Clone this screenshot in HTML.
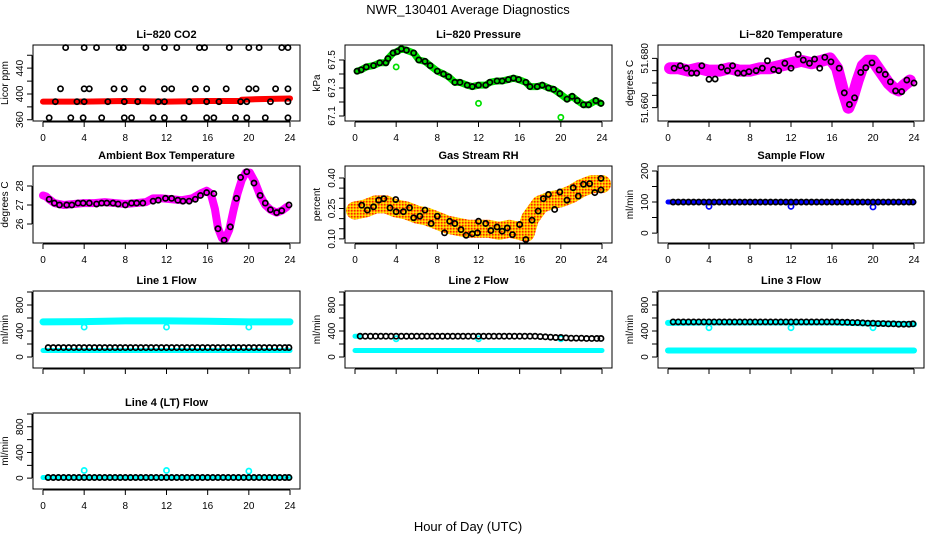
<!DOCTYPE html>
<html><head><meta charset="utf-8">
<style>
html,body{margin:0;padding:0;background:#fff;}
svg{display:block;font-family:"Liberation Sans",Arial,sans-serif;}
</style></head>
<body>
<svg id="chart" width="936" height="540" viewBox="0 0 936 540" xmlns="http://www.w3.org/2000/svg">
<defs>
<pattern id="rhpat" width="3" height="3" patternUnits="userSpaceOnUse">
<rect width="3" height="3" fill="#ffb000"/>
<rect width="1.5" height="1.5" fill="#ff2000"/>
<rect x="1.5" y="1.5" width="1.5" height="1.5" fill="#ffee00"/>
</pattern>
</defs>
<text x="468" y="14" text-anchor="middle" font-size="13">NWR_130401  Average Diagnostics</text>
<text x="468" y="531" text-anchor="middle" font-size="13">Hour of Day (UTC)</text>
</svg>
<script>
// ---------- data ----------
const co2TopH = [2.2,4,5.2,7.4,7.8,10,11.8,13,15.2,15.7,18.1,20,21,23.2,23.8];
const co2TopV = [472,472,472,472,472,472,472,472,472,472,472,472,472,472,472];
const co2MidH = [1.7,4,4.5,6.9,7.9,9.7,11.8,12.5,14.8,15.9,17.8,20,20.7,22.6,23.8];
const co2MidV = [408,408,408,408,408,408,408,408,408,408,408,408,408,408,408];
const co2LowH = [1.2,3.3,4,6.3,7.9,9.2,11.2,11.8,14.2,15.9,17.1,19.2,19.8,22.1,23.8];
const co2LowV = [388,388,388,388,388,388,388,388,388,388,388,388,388,388,388];
const co2BotH = [0.6,2.7,3.9,5.7,7.9,8.6,10.7,11.8,13.7,15.9,16.6,18.7,19.8,21.6,23.8];
const co2BotV = [363,363,363,363,363,363,363,363,363,363,363,363,363,363,363];
const co2BandH = [0,4,8,12,16,19.2,19.3,21,24];
const co2BandV = [388,388,389,388,389,389,391,392,393];

const presH = [0.2,0.6,1.1,1.8,2.4,3.0,3.2,3.7,4.1,4.5,5.0,5.7,6.2,6.8,7.3,8.0,8.6,9.1,9.7,10.2,10.9,11.4,12.0,12.7,13.1,13.8,14.3,14.9,15.4,15.9,16.6,17.0,17.7,18.2,18.8,19.3,19.9,20.6,21.1,21.6,22.2,22.7,23.4,23.9];
const presV = [67.42,67.43,67.45,67.46,67.48,67.48,67.51,67.55,67.56,67.58,67.57,67.55,67.50,67.49,67.46,67.42,67.40,67.38,67.34,67.34,67.32,67.31,67.32,67.32,67.34,67.35,67.35,67.36,67.37,67.36,67.34,67.31,67.31,67.32,67.30,67.29,67.26,67.22,67.24,67.21,67.18,67.18,67.21,67.19];
const presOutH = [4.0,12.0,20.0];
const presOutV = [67.45,67.19,67.09];

const tempH = [0.6,1.2,1.8,2.3,2.8,3.3,4.0,4.6,5.2,5.8,6.3,6.8,7.4,7.9,8.6,9.2,9.7,10.3,10.8,11.4,12.0,12.7,13.2,13.8,14.3,14.8,15.3,15.9,16.7,17.2,17.7,18.2,18.8,19.3,19.9,20.6,21.2,21.7,22.2,22.8,23.3,24.0];
const tempV = [51.676,51.677,51.676,51.674,51.674,51.677,51.6715,51.6716,51.6764,51.675,51.677,51.674,51.674,51.6746,51.675,51.676,51.679,51.6755,51.675,51.678,51.676,51.6816,51.6793,51.678,51.6797,51.676,51.6804,51.6786,51.676,51.666,51.6613,51.664,51.6743,51.6762,51.6782,51.6753,51.6735,51.6705,51.6668,51.6665,51.6712,51.670];
const tempBandH = [0.2,1,2,3,4,5,6,7,8,9,10,11,12,13,14,15,15.8,16.5,17.0,17.6,18.0,18.5,19.0,19.5,20,20.5,21,21.5,22,22.5,23,23.6];
const tempBandV = [51.676,51.676,51.675,51.676,51.675,51.675,51.676,51.675,51.675,51.676,51.676,51.677,51.678,51.679,51.678,51.679,51.680,51.676,51.668,51.660,51.664,51.671,51.677,51.679,51.679,51.676,51.673,51.670,51.668,51.667,51.669,51.671];

const ambH = [0.6,1.1,1.6,2.3,2.8,3.4,3.9,4.5,5.2,5.7,6.2,6.8,7.3,8.0,8.6,9.1,9.7,10.7,11.2,11.9,12.5,13.1,13.6,14.2,14.8,15.3,15.9,16.6,17.0,17.6,18.2,18.8,19.2,19.8,20.5,21.1,21.6,22.1,22.7,23.2,23.9];
const ambV = [27.3,27.1,27.0,27.0,27.0,27.1,27.1,27.1,27.05,27.1,27.1,27.1,27.05,27.0,27.1,27.1,27.1,27.2,27.25,27.35,27.35,27.25,27.2,27.2,27.3,27.5,27.65,27.6,25.75,25.15,25.85,27.35,28.45,28.75,28.15,27.5,27.1,26.75,26.6,26.7,27.0];
const ambBandH = [0,0.3,0.6,1.1,2,3,4,5,6,7,8,9,10,10.7,11.5,12.5,13.5,14.5,15.3,15.9,16.3,16.7,17.0,17.4,17.7,18.1,18.5,18.9,19.3,19.7,20.1,20.6,21.1,21.6,22.1,22.7,23.2,23.7];
const ambBandV = [27.5,27.45,27.3,27.1,27.0,27.05,27.1,27.1,27.15,27.1,27.05,27.1,27.15,27.35,27.35,27.3,27.25,27.35,27.6,27.75,27.6,26.8,25.8,25.25,25.2,25.7,26.7,27.6,28.3,28.7,28.7,28.2,27.5,27.0,26.75,26.6,26.7,26.9];

const rhH = [0.65,1.2,1.8,2.3,2.8,3.4,3.96,4.0,4.7,5.3,5.7,6.3,6.8,7.4,8.0,8.7,9.2,9.7,10.3,10.8,11.4,11.9,12.0,12.7,13.2,13.8,14.3,14.8,15.3,16.0,16.6,17.2,17.8,18.3,18.8,19.4,19.9,20.6,21.2,21.7,22.2,22.8,23.3,23.9,23.9];
const rhV = [0.266,0.242,0.258,0.291,0.298,0.253,0.294,0.234,0.234,0.253,0.204,0.212,0.242,0.176,0.212,0.13,0.187,0.176,0.146,0.118,0.125,0.13,0.187,0.176,0.141,0.159,0.138,0.154,0.121,0.171,0.097,0.192,0.237,0.298,0.319,0.245,0.331,0.291,0.352,0.311,0.369,0.372,0.328,0.341,0.398];
const rhBandH = [0,1,2,3,4,5,6,7,8,9,10,11,12,13,14,15,16,16.6,17,18,19,20,21,22,23,24];
const rhBandV = [0.24,0.25,0.27,0.27,0.25,0.24,0.22,0.21,0.19,0.17,0.16,0.15,0.15,0.15,0.14,0.15,0.14,0.13,0.2,0.27,0.29,0.3,0.32,0.35,0.37,0.37];

const flowH = [0.5,1,1.5,2,2.5,3,3.5,4,4.5,5,5.5,6,6.5,7,7.5,8,8.5,9,9.5,10,10.5,11,11.5,12,12.5,13,13.5,14,14.5,15,15.5,16,16.5,17,17.5,18,18.5,19,19.5,20,20.5,21,21.5,22,22.5,23,23.5,23.9];
const bandH = [0,4,8,12,16,20,24];
const dipH = [4,12,20];

const sampleBlack = [100,100,100,100,100,100,100,100,100,100,100,100,100,100,100,100,100,100,100,100,100,100,100,100,100,100,100,100,100,100,100,100,100,100,100,100,100,100,100,100,100,100,100,100,100,100,100,100];
const sampleBand = [100,100,100,100,100,100,100];
const sampleDip = [86,86,84];

const line1Black = [145,145,145,145,145,145,145,145,145,145,145,145,145,145,145,145,145,145,145,145,145,145,145,145,145,145,145,145,145,145,145,145,145,145,145,145,145,145,145,145,145,145,145,145,145,145,145,145];
const line1Upper = [540,545,555,555,550,540,540];
const line1Lower = [100,100,100,100,100,100,100];
const line1Dip = [460,460,460];

const line2Black = [320,320,320,320,320,320,320,320,320,320,320,320,320,320,320,320,320,320,320,320,320,320,320,320,320,320,320,320,320,320,320,320,320,320,320,315,310,305,300,300,295,290,290,290,285,285,285,285];
const line2StartH = [0,0.4];
const line2StartV = [320,320];
const line2Lower = [100,100,100,100,100,100,100];
const line2Dip = [280,280,280];

const line3Black = [540,540,540,540,540,540,540,540,540,540,540,540,540,540,540,540,540,540,540,540,540,540,540,540,540,540,540,540,540,540,540,540,540,535,535,530,530,525,520,520,515,515,510,510,505,505,505,510];
const line3Upper = [525,530,530,530,530,515,505];
const line3Lower = [100,100,100,100,100,100,100];
const line3Dip = [450,450,450];

const line4Black = [10,10,10,10,10,10,10,10,10,10,10,10,10,10,10,10,10,10,10,10,10,10,10,10,10,10,10,10,10,10,10,10,10,10,10,10,10,10,10,10,10,10,10,10,10,10,10,10];
const line4Band = [10,10,10,10,10,10,10];
const line4Dip = [120,120,110];

const xTickVals = [0,4,8,12,16,20,24];

// ---------- drawing ----------
const NS = "http://www.w3.org/2000/svg";
const svg = document.getElementById("chart");
const colX0 = [43,355,668], colX24 = [290,602,914];
const rowTop = [45,166,291,413], rowBot = [121,243,368,489];

function mk(tag, parent){ const e=document.createElementNS(NS,tag); (parent||svg).appendChild(e); return e; }

function panel(name, col, row, ylo, yhi, ticks, labels, ylab, xlabels){
  const g = mk("g");
  
  
  const x0=colX0[col], x1=colX24[col], top=rowTop[row], bot=rowBot[row];
  const L=x0-10, R=x1+10;
  const sx = h => x0 + (x1-x0)*h/24;
  const sy = v => bot - (v-ylo)/(yhi-ylo)*(bot-top);
  const box = mk("rect", g);
  
  
  box.setAttribute("x",L); box.setAttribute("y",top); box.setAttribute("width",R-L); box.setAttribute("height",bot-top);
  box.setAttribute("fill","none"); box.setAttribute("stroke","#000"); box.setAttribute("stroke-width","1");
  const t = mk("text", g);
  
  
  t.setAttribute("x",(L+R)/2); t.setAttribute("y",top-7); t.setAttribute("text-anchor","middle");
  t.setAttribute("font-size","11"); t.setAttribute("font-weight","bold");
  t.textContent = name.title;
  const xa = mk("g", g);
  
  
  let d = `M${sx(0)},${bot+1}H${sx(24)}`;
  xTickVals.forEach(v=>{ d += `M${sx(v)},${bot+1}v5`; });
  const xp = mk("path", xa); xp.setAttribute("d",d); xp.setAttribute("stroke","#000"); xp.setAttribute("fill","none");
  if (xlabels) xTickVals.forEach(v=>{
    const tl = mk("text", xa);
    
    
    tl.setAttribute("x",sx(v)); tl.setAttribute("y",bot+20); tl.setAttribute("text-anchor","middle"); tl.setAttribute("font-size","10");
    tl.textContent = v;
  });
  const ya = mk("g", g);
  
  
  let dy = `M${L-1},${sy(ticks[0])}V${sy(ticks[ticks.length-1])}`;
  ticks.forEach(v=>{ dy += `M${L-1},${sy(v)}h-5`; });
  const yp = mk("path", ya); yp.setAttribute("d",dy); yp.setAttribute("stroke","#000"); yp.setAttribute("fill","none");
  labels.forEach(v=>{
    const tl = mk("text", ya);
    
    
    const yy = sy(parseFloat(v));
    tl.setAttribute("transform",`translate(${L-10},${yy}) rotate(-90)`);
    tl.setAttribute("text-anchor","middle"); tl.setAttribute("font-size","10");
    tl.textContent = v;
  });
  const yl = mk("text", ya);
  
  
  yl.setAttribute("transform",`translate(${L-25},${(top+bot)/2}) rotate(-90)`);
  yl.setAttribute("text-anchor","middle"); yl.setAttribute("font-size","10");
  yl.textContent = ylab;
  return {g, sx, sy};
}

function band(p, hs, vs, color, width, nm){
  const pl = mk("polyline", p.g);
  
  
  pl.setAttribute("points", hs.map((h,i)=>`${p.sx(h)},${p.sy(vs[i])}`).join(" "));
  pl.setAttribute("fill","none"); pl.setAttribute("stroke",color); pl.setAttribute("stroke-width",width);
  pl.setAttribute("stroke-linecap","round"); pl.setAttribute("stroke-linejoin","round");
}
function pts(p, hs, vs, color, nm, r){
  hs.forEach((h,i)=>{
    const c = mk("circle", p.g);
    
    
    c.setAttribute("cx",p.sx(h)); c.setAttribute("cy",p.sy(vs[i])); c.setAttribute("r",r||2.6);
    c.setAttribute("fill","none"); c.setAttribute("stroke",color); c.setAttribute("stroke-width","1.7");
  });
}
function P(id,title){ const s = new String(id); s.title = title; return s; }

let p = panel(P("li820-co2","Li\u2212820 CO2"),0,0,358,476,[360,380,400,420,440,460],["360","400","440"],"Licor ppm",true);
band(p, co2BandH, co2BandV, "#ff0000", 6, "co2-red-band");
pts(p, co2TopH, co2TopV, "#000", "co2-point");
pts(p, co2MidH, co2MidV, "#000", "co2-point");
pts(p, co2LowH, co2LowV, "#000", "co2-point");
pts(p, co2BotH, co2BotV, "#000", "co2-point");

p = panel(P("li820-pressure","Li\u2212820 Pressure"),1,0,67.064,67.607,[67.1,67.2,67.3,67.4,67.5],["67.1","67.3","67.5"],"kPa",true);
band(p, presH, presV, "#00e000", 7, "pressure-green-band");
pts(p, presOutH, presOutV, "#00e000", "pressure-outlier");
pts(p, presH, presV, "#000", "pressure-point");

p = panel(P("li820-temperature","Li\u2212820 Temperature"),2,0,51.6546,51.6854,[51.66,51.665,51.67,51.675,51.68],["51.660","51.680"],"degrees C",true);
band(p, tempBandH, tempBandV, "#ff00ff", 12, "temperature-magenta-band");
pts(p, tempH, tempV, "#000", "temperature-point");

p = panel(P("ambient-box-temperature","Ambient Box Temperature"),0,1,25.0,29.05,[26,27,28],["26","27","28"],"degrees C",true);
band(p, ambBandH, ambBandV, "#ff00ff", 8, "ambient-magenta-band");
pts(p, ambH, ambV, "#000", "ambient-point");

p = panel(P("gas-stream-rh","Gas Stream RH"),1,1,0.080,0.459,[0.10,0.15,0.20,0.25,0.30,0.35,0.40],["0.10","0.25","0.40"],"percent",true);
band(p, rhBandH, rhBandV, "url(#rhpat)", 18, "rh-orange-band");
pts(p, rhH, rhV, "#000", "rh-point");

p = panel(P("sample-flow","Sample Flow"),2,1,-32,216,[0,50,100,150,200],["0","100","200"],"ml/min",true);
band(p, bandH, sampleBand, "#0000ff", 5, "sample-blue-band");
pts(p, dipH, sampleDip, "#0000ff", "sample-dip");
pts(p, flowH, sampleBlack, "#000", "sample-point");

function flowPanel(id,title,col,row,xl){ return panel(P(id,title),col,row,-169,1015,[0,200,400,600,800,1000],["0","400","800"],"ml/min",xl); }
p = flowPanel("line1-flow","Line 1 Flow",0,2,false);
band(p, bandH, line1Upper, "#00ffff", 7, "line1-cyan-upper");
band(p, bandH, line1Lower, "#00ffff", 5, "line1-cyan-lower");
pts(p, dipH, line1Dip, "#00ffff", "line1-dip");
pts(p, flowH, line1Black, "#000", "line1-point");

p = flowPanel("line2-flow","Line 2 Flow",1,2,false);
band(p, bandH, line2Lower, "#00ffff", 5, "line2-cyan-lower");
band(p, line2StartH, line2StartV, "#00ffff", 5, "line2-cyan-start");
pts(p, dipH, line2Dip, "#00ffff", "line2-dip");
pts(p, flowH, line2Black, "#000", "line2-point");

p = flowPanel("line3-flow","Line 3 Flow",2,2,false);
band(p, bandH, line3Upper, "#00ffff", 6, "line3-cyan-upper");
band(p, bandH, line3Lower, "#00ffff", 6, "line3-cyan-lower");
pts(p, dipH, line3Dip, "#00ffff", "line3-dip");
pts(p, flowH, line3Black, "#000", "line3-point");

p = flowPanel("line4-flow","Line 4 (LT) Flow",0,3,true);
band(p, bandH, line4Band, "#00ffff", 5, "line4-cyan-band");
pts(p, dipH, line4Dip, "#00ffff", "line4-dip");
pts(p, flowH, line4Black, "#000", "line4-point");
</script>
</body></html>
